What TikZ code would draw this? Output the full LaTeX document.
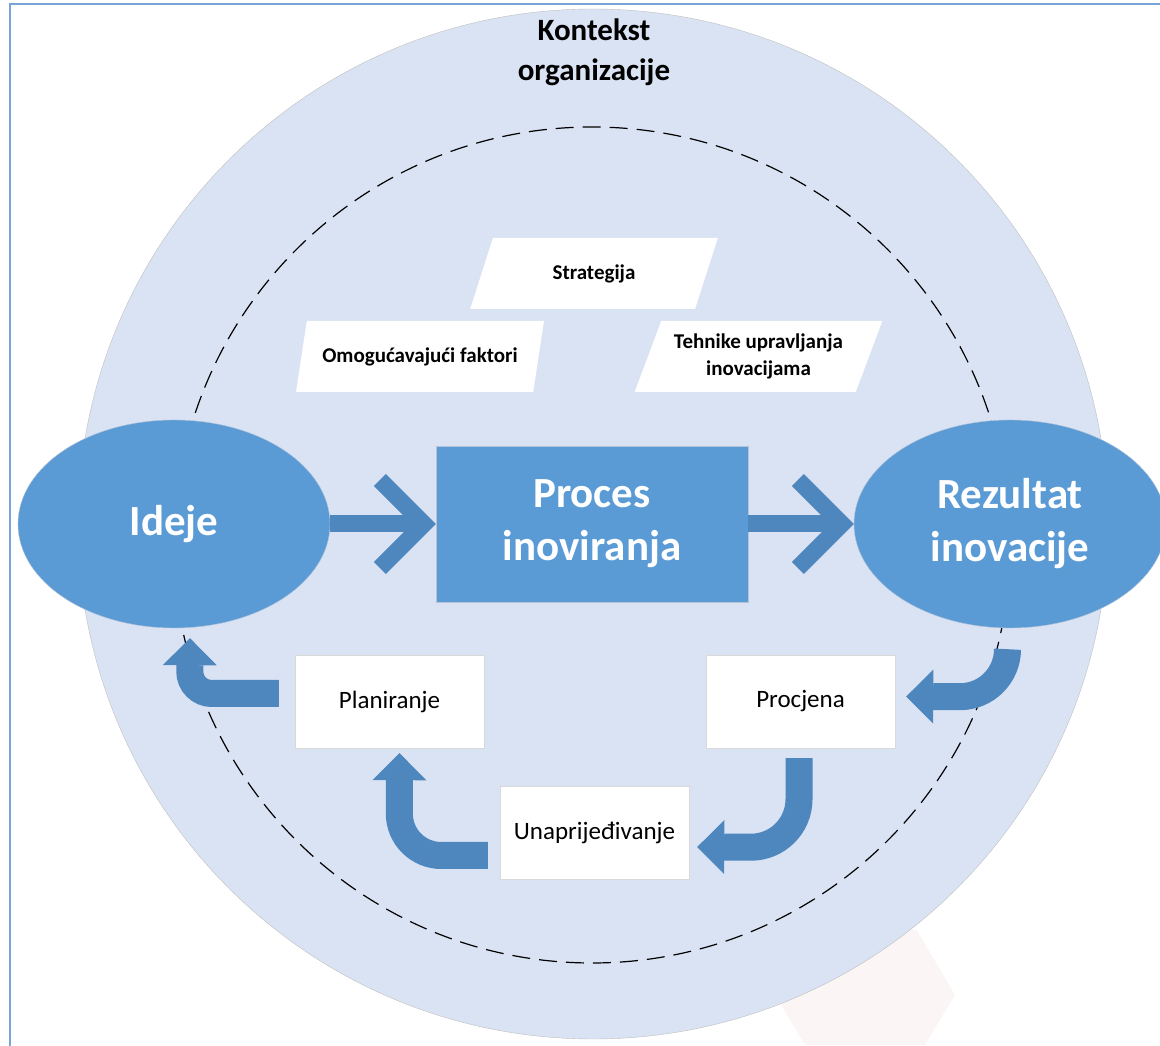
\documentclass[tikz,border=0pt]{standalone}
\usepackage{fontspec}
\setmainfont{Carlito}
\usetikzlibrary{shapes.geometric,arrows.meta}

\definecolor{ctxfill}{RGB}{218,227,243}
\definecolor{ctxline}{RGB}{191,191,191}
\definecolor{mainblue}{RGB}{91,155,213}
\definecolor{arrowblue}{RGB}{78,134,190}
\definecolor{framecol}{RGB}{120,165,215}
\definecolor{boxline}{RGB}{217,217,217}
\definecolor{shapeline}{RGB}{180,195,215}
\definecolor{wmark}{RGB}{252,245,245}

\begin{document}
\begin{tikzpicture}[x=1pt,y=1pt,
    bigshape/.style={fill=mainblue,draw=shapeline,text=white,inner sep=0pt,align=center,
      font=\bfseries\fontsize{43}{53}\selectfont},
    factor/.style={trapezium,trapezium left angle=63,trapezium right angle=117,
      trapezium stretches=true,fill=white,inner sep=0pt,minimum width=248pt,
      minimum height=71pt,align=center,font=\bfseries\fontsize{21}{27}\selectfont},
    stepbox/.style={rectangle,fill=white,draw=boxline,minimum width=189pt,
      minimum height=93pt,inner sep=0pt,font=\fontsize{25}{30}\selectfont},
    shaft/.style={arrowblue,line width=17pt},
    chevron/.style={arrowblue,line width=17pt,line join=miter},
    bent/.style={arrowblue,line width=27pt,
      -{Triangle[length=27pt,width=54pt,line width=0pt]}}]
        \useasboundingbox (0,0) rectangle (1160,1045);

        % Frame and context
        \fill[wmark] (805,0) -- (775,50) -- (845,120) -- (917,115) -- (955,50) -- (925,0) -- cycle;
        \draw[framecol,line width=1.5pt] (10,-20) rectangle (1180,1041);
        \draw[ctxline,fill=ctxfill] (593,521) circle[radius=515pt];
        \draw[dash pattern=on 18pt off 9pt,line width=1.2pt] (592,500) circle[radius=418pt];
        \node[font=\bfseries\fontsize{31}{40}\selectfont,align=center] (kontekst) at (594,993) {Kontekst\\organizacije};

        % Factors
        \node[factor] (strat) at (594,771.5) {Strategija};
        \node[factor] (omog) at (420,688.5) {Omogućavajući faktori};
        \node[factor] (tehn) at (758.5,688.5) {Tehnike upravljanja\\inovacijama};

        % Main flow
        \node[bigshape,ellipse,minimum width=312pt,minimum height=208pt] (ideje) at (174,521) {Ideje};
        \node[bigshape,rectangle,minimum width=312pt,minimum height=156pt] (proces) at (592,521) {Proces\\inoviranja};
        \node[bigshape,ellipse,minimum width=312pt,minimum height=208pt] (rez) at (1010,521) {Rezultat\\inovacije};

        \draw[shaft] (ideje.east) -- ([xshift=-12pt]proces.west);
        \draw[chevron] ([shift={(-56,44)}]proces.west) -- ([xshift=-12pt]proces.west) -- ([shift={(-56,-44)}]proces.west);
        \draw[shaft] (proces.east) -- ([xshift=-12pt]rez.west);
        \draw[chevron] ([shift={(-56,44)}]rez.west) -- ([xshift=-12pt]rez.west) -- ([shift={(-56,-44)}]rez.west);

        % Improvement loop
        \node[stepbox] (plan) at (389.5,343.5) {Planiranje};
        \node[stepbox] (procj) at (800.5,343.5) {Procjena};
        \node[stepbox] (unap) at (594.5,212) {Unaprijeđivanje};

        \draw[bent] ([shift={(-2.5,-21)}]rez.south) arc[start angle=0,end angle=-90,radius=47.5pt] -- ([shift={(11,5)}]procj.east);
        \draw[bent] ([shift={(-1.5,-10)}]procj.south) -- ++(0,-41) arc[start angle=0,end angle=-90,radius=48pt] -- ([shift={(8,-14)}]unap.east);
        \draw[bent] ([shift={(-12,-22.5)}]unap.west) -- ++(-46.5,0) arc[start angle=270,end angle=180,radius=42pt] -- ([shift={(10,-5)}]plan.south);
        \draw[bent] ([shift={(-16,8)}]plan.west) -- ++(-67,0) arc[start angle=270,end angle=180,radius=22pt] -- ([shift={(16,-10)}]ideje.south);

\end{tikzpicture}
\end{document}
